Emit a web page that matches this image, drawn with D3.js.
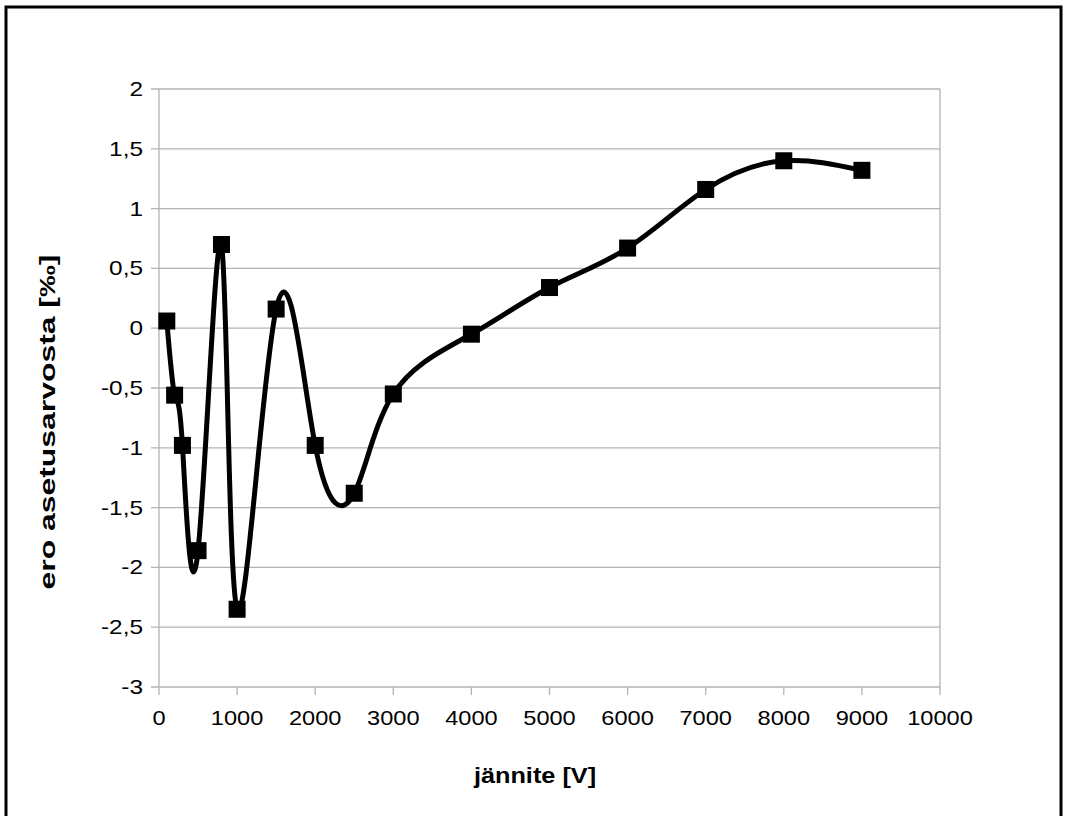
<!DOCTYPE html>
<html>
<head>
<meta charset="utf-8">
<script src="https://cdn.jsdelivr.net/npm/d3@7"></script>
<style>
  body { margin: 0; background: #fff; }
  text { font-family: "Liberation Sans", Arial, sans-serif; fill: #000; }
</style>
</head>
<body>
<script>
// mittaukset: jännite [V] ja ero asetusarvosta [‰]
const jannite = [100, 200, 300, 500, 800, 1000, 1500, 2000, 2500, 3000, 4000, 5000, 6000, 7000, 8000, 9000];
const ero = [0.06, -0.56, -0.98, -1.86, 0.70, -2.35, 0.16, -0.98, -1.38, -0.55, -0.05, 0.34, 0.67, 1.16, 1.40, 1.32];
const xTicks = [0, 1000, 2000, 3000, 4000, 5000, 6000, 7000, 8000, 9000, 10000];
const yTicks = [2, 1.5, 1, 0.5, 0, -0.5, -1, -1.5, -2, -2.5, -3];

const W = 1066, H = 816;
const svg = d3.select('body').append('svg')
  .attr('width', W).attr('height', H);

// kehys
svg.append('rect')
  .attr('x', 6).attr('y', 7)
  .attr('width', 1055).attr('height', 900)
  .attr('fill', 'none').attr('stroke', '#000').attr('stroke-width', 3);

const x = d3.scaleLinear().domain([0, 10000]).range([159, 940]);
const y = d3.scaleLinear().domain([-3, 2]).range([687, 89]);

// ruudukko
svg.append('g').selectAll('line').data(yTicks).enter().append('line')
  .attr('x1', x(0) - 8).attr('x2', x(10000))
  .attr('y1', d => y(d)).attr('y2', d => y(d))
  .attr('stroke', '#b3b3b3').attr('stroke-width', 1.3);
svg.append('g').selectAll('line').data(xTicks).enter().append('line')
  .attr('x1', d => x(d)).attr('x2', d => x(d))
  .attr('y1', y(-3)).attr('y2', y(-3) + 8)
  .attr('stroke', '#b3b3b3').attr('stroke-width', 1.3);
svg.append('line')
  .attr('x1', x(0)).attr('x2', x(0)).attr('y1', y(2)).attr('y2', y(-3))
  .attr('stroke', '#b3b3b3').attr('stroke-width', 1.3);
svg.append('line')
  .attr('x1', x(10000)).attr('x2', x(10000)).attr('y1', y(2)).attr('y2', y(-3))
  .attr('stroke', '#b3b3b3').attr('stroke-width', 1.3);

// akselien numerot (hieman leveämmät kuin normaali fontti)
const fmt = d => String(d).replace('.', ',');
svg.append('g').selectAll('text').data(yTicks).enter().append('text')
  .attr('transform', d => 'translate(' + (x(0) - 16) + ',' + y(d) + ') scale(1.22,1)')
  .attr('dy', '0.35em')
  .attr('text-anchor', 'end').attr('font-size', 20)
  .text(fmt);
svg.append('g').selectAll('text').data(xTicks).enter().append('text')
  .attr('transform', d => 'translate(' + x(d) + ',' + (y(-3) + 38) + ') scale(1.18,1)')
  .attr('text-anchor', 'middle').attr('font-size', 20)
  .text(d => d);

// akselien otsikot
svg.append('text')
  .attr('transform', 'translate(535,783) scale(1.15,1)')
  .attr('text-anchor', 'middle').attr('font-size', 22).attr('font-weight', 'bold')
  .text('jännite [V]');
svg.append('text')
  .attr('transform', 'translate(55,' + 422 + ') rotate(-90)')
  .attr('text-anchor', 'middle').attr('font-size', 22).attr('font-weight', 'bold')
  .attr('textLength', 335).attr('lengthAdjust', 'spacingAndGlyphs')
  .text('ero asetusarvosta [‰]');

// käyrä
const line = d3.line()
  .x((d, i) => x(d))
  .y((d, i) => y(ero[i]))
  .curve(d3.curveNatural);
svg.append('path')
  .attr('d', line(jannite))
  .attr('fill', 'none').attr('stroke', '#000').attr('stroke-width', 5)
  .attr('stroke-linejoin', 'round');

// merkit
const s = 17;
svg.append('g').selectAll('rect').data(jannite).enter().append('rect')
  .attr('x', (d) => x(d) - s / 2)
  .attr('y', (d, i) => y(ero[i]) - s / 2)
  .attr('width', s).attr('height', s)
  .attr('fill', '#000');
</script>
</body>
</html>
